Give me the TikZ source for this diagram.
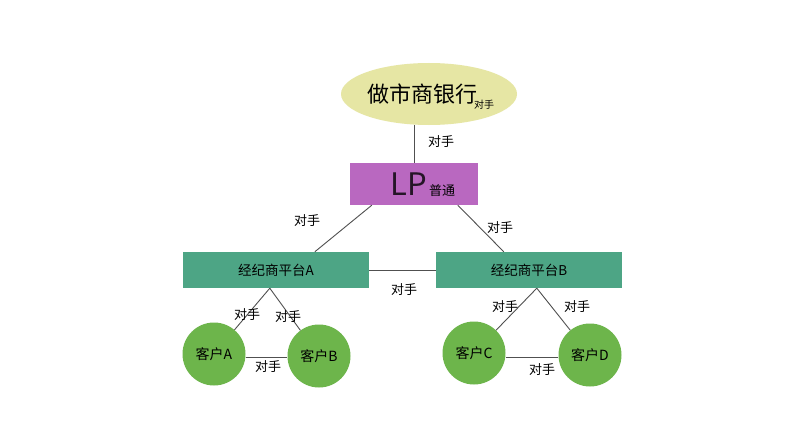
\documentclass[tikz,border=0pt]{standalone}
\usepackage{fontspec}
\setmainfont{Noto Sans CJK SC}
\usetikzlibrary{shapes.geometric,calc}
\definecolor{bankY}{HTML}{E6E6A4}
\definecolor{lpP}{HTML}{B968C0}
\definecolor{brG}{HTML}{4DA585}
\definecolor{cuG}{HTML}{6DB54B}
\definecolor{lnG}{HTML}{505050}
\tikzset{
  lbl/.style={font=\fontsize{13}{13}\selectfont, inner sep=0pt},
  conn/.style={draw=lnG, line width=0.9pt},
  broker/.style={fill=brG, minimum width=186pt, minimum height=36pt, inner sep=0pt, font=\fontsize{13.5}{14}\selectfont},
  cust/.style={circle, fill=cuG, minimum size=63pt, inner sep=0pt, font=\fontsize{14}{14}\selectfont}
}
\begin{document}
\begin{tikzpicture}[x=1pt,y=-1pt]
\useasboundingbox[fill=white] (0,0) rectangle (800,444);
% nodes
\node[ellipse, fill=bankY, minimum width=176pt, minimum height=62pt, inner sep=0pt] (bank) at (429,94) {};
\node[inner sep=0pt, font=\fontsize{22}{22}\selectfont] (banktxt) at (422,94) {做市商银行};
\node[inner sep=0pt, font=\fontsize{10}{10}\selectfont] (banksm) at (484,105) {对手};
\node[fill=lpP, minimum width=128pt, minimum height=42pt, inner sep=0pt] (lp) at (414,184) {};
\node[inner sep=0pt, anchor=base east, font=\fontsize{31}{31}\selectfont, text=black!80!lpP] (lptxt) at (427,195) {LP};
\node[inner sep=0pt, anchor=base west, font=\fontsize{13}{13}\selectfont] (lpsm) at (429,195) {普通};
\node[broker] (brA) at (276,270) {经纪商平台A};
\node[broker] (brB) at (529,270) {经纪商平台B};
\node[cust] (cA) at (214,354) {客户A};
\node[cust] (cB) at (319,356) {客户B};
\node[cust] (cC) at (474,353) {客户C};
\node[cust] (cD) at (590,355) {客户D};
% connector coordinates
\coordinate (lpL) at ($(lp.south west)+(22,0)$);
\coordinate (lpR) at ($(lp.south west)+(108,0)$);
\coordinate (brAt) at ($(brA.north west)+(132,0)$);
\coordinate (brBt) at ($(brB.north west)+(68,0)$);
\coordinate (apA) at ($(brA.south west)+(87,0)$);
\coordinate (apB) at ($(brB.south west)+(101,0)$);
% connectors
\draw[conn] (bank.south -| lp.north) -- (lp.north);
\draw[conn] (lpL) -- (brAt);
\draw[conn] (lpR) -- (brBt);
\draw[conn] (brA.east) -- (brB.west);
\draw[conn] (apA) -- (cA);
\draw[conn] (apA) -- (cB);
\draw[conn] (apB) -- (cC);
\draw[conn] (apB) -- (cD);
\draw[conn] (cA.east |- 0,357) -- (cB.west |- 0,357);
\draw[conn] (cC.east |- 0,357) -- (cD.west |- 0,357);
% labels
\node[lbl] (l1) at (441,142) {对手};
\node[lbl] (l2) at (307,221) {对手};
\node[lbl] (l3) at (500,228) {对手};
\node[lbl] (l4) at (404,290) {对手};
\node[lbl] (l5) at (247,315) {对手};
\node[lbl] (l6) at (288,317) {对手};
\node[lbl] (l7) at (268,367) {对手};
\node[lbl] (l8) at (505,307) {对手};
\node[lbl] (l9) at (577,307) {对手};
\node[lbl] (l10) at (542,370) {对手};
\end{tikzpicture}
\end{document}
